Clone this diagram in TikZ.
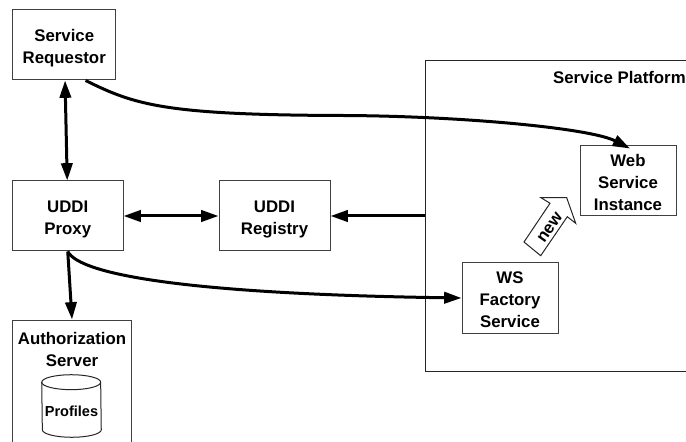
\documentclass[tikz,border=0pt]{standalone}
\usepackage{fontspec}
\setmainfont{Liberation Sans}
\usetikzlibrary{arrows.meta,calc}
\newcommand{\pushdown}[1]{\rule{0pt}{#1}}
\tikzset{
  box/.style={draw=black!75,line width=0.75pt,rectangle,inner sep=0pt,align=center,font=\fontsize{12.6}{16.5}\selectfont\bfseries},
  lbl/.style={inner sep=0pt,align=center,font=\fontsize{12.6}{16.5}\selectfont\bfseries},
  link/.style={line width=2.25pt,-{Triangle[length=13pt,width=8.5pt]}},
  dlink/.style={line width=2.25pt,{Triangle[length=13pt,width=8.5pt]}-{Triangle[length=13pt,width=8.5pt]}},
  thin box/.style={draw=black!85,line width=0.75pt},
}
\begin{document}
\begin{tikzpicture}[x=0.75pt,y=-0.75pt]
\useasboundingbox (0,0) rectangle (686,442);
\clip (0,0) rectangle (686,442);
\node[box,minimum width=77.6pt,minimum height=52.5pt] (req) at (64.25,45) {\pushdown{13.5pt}Service\\Requestor};
\node[box,minimum width=82.9pt,minimum height=52.5pt] (proxy) at (67.75,216) {\pushdown{13.5pt}UDDI\\Proxy};
\node[box,minimum width=83.25pt,minimum height=52.5pt] (reg) at (274.5,216) {\pushdown{13.5pt}UDDI\\Registry};
\node[box,minimum width=88.9pt,minimum height=105pt] (auth) at (71.75,390) {};
\node[lbl] (authl) at (72,349) {Authorization\\Server};
\node[inner sep=0pt,minimum width=44.25pt,minimum height=46.5pt] (db) at (71.5,406) {};
\draw[thin box,fill=white] ([yshift=-5.6pt]db.north west) arc[start angle=180,end angle=0,x radius=22.1pt,y radius=5.6pt]
  -- ([yshift=5.6pt]db.south east) arc[start angle=0,end angle=-180,x radius=22.1pt,y radius=5.6pt] -- cycle;
\draw[thin box] ([yshift=-5.6pt]db.north west) arc[start angle=180,end angle=360,x radius=22.1pt,y radius=5.6pt];
\node[lbl,font=\fontsize{10.9}{13}\selectfont\bfseries] (dbl) at (71.5,411) {Profiles};
\node[thin box,rectangle,inner sep=0pt,minimum width=225pt,minimum height=232.5pt] (plat) at (575,216) {};
\node[lbl,anchor=east] (platl) at (686,77) {Service Platform};
\node[box,minimum width=72pt,minimum height=52.5pt] (web) at (628,181) {\pushdown{12pt}Web\\Service\\Instance};
\node[box,minimum width=72pt,minimum height=52.5pt] (fac) at (510,298) {\pushdown{11pt}WS\\Factory\\Service};
\draw[thin box,fill=white] (541,197.7) -- (566.7,197.7) -- (575.7,223.3) -- (567.3,216.7) -- (540.7,255.7) -- (524,242) -- (550,203.3) -- cycle;
\node[lbl,rotate=55] (newl) at (550,228) {new};
\coordinate (regin) at (plat.west |- reg.east);
\draw[dlink] ([xshift=0.6pt]req.south) -- ([xshift=-0.4pt]proxy.north);
\draw[dlink] (proxy.east) -- (reg.west);
\draw[link] (regin) -- (reg.east);
\draw[link] (proxy.south) -- ([xshift=0.2pt]auth.north);
\draw[link] ([xshift=16pt]req.south) .. controls (135,105) and (165,115) .. (343,115.5) .. controls (460,116) and (590,128) .. ([xshift=1.5pt,yshift=-2.25pt]web.north);
\draw[link] (proxy.south) .. controls (80,275) and (190,294) .. (fac.west);
\end{tikzpicture}
\end{document}
